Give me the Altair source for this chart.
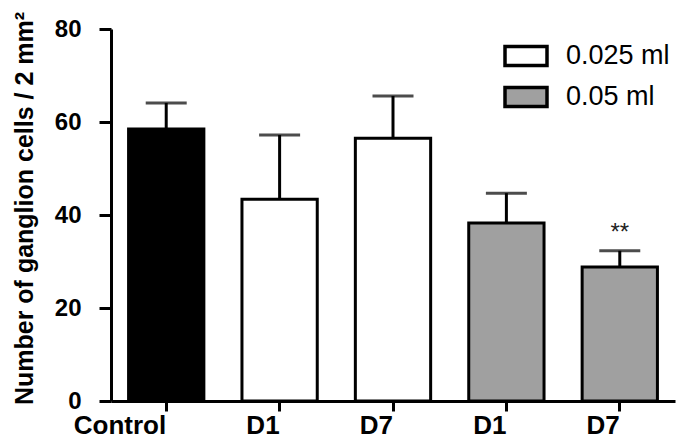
import altair as alt
import pandas as pd

categories = ["Control", "D1", "D7", "D1", "D7"]
groups = ["Control", "0.025 ml", "0.025 ml", "0.05 ml", "0.05 ml"]
means = [58.5, 43.4, 56.5, 38.3, 28.8]
uppers = [64.1, 57.2, 65.6, 44.7, 32.3]
stars = ["", "", "", "", "**"]
star_y = [None, None, None, None, 34.6]

group_domain = ["0.025 ml", "0.05 ml", "Control"]
group_colors = ["#ffffff", "#a0a0a0", "#000000"]
y_ticks = [0, 20, 40, 60, 80]

keys = [f"{i}:{c}" for i, c in enumerate(categories)]
df = pd.DataFrame({"key": keys, "group": groups, "mean": means, "upper": uppers,
                   "star": stars, "star_y": star_y})

FONT = "Liberation Sans"

x = alt.X("key:N", sort=keys, title=None,
          scale=alt.Scale(paddingInner=0.336, paddingOuter=0.155),
          axis=alt.Axis(labelExpr="split(datum.label, ':')[1]", labelAngle=0,
                        labelFont=FONT, labelFontSize=26, labelFontWeight="bold",
                        labelColor="black", labelPadding=22, labelBaseline="alphabetic",
                        domainColor="black", domainWidth=3,
                        tickColor="black", tickWidth=3, tickSize=10))
yscale = alt.Scale(domain=[0, 80], nice=False)

bars = alt.Chart(df).mark_bar(stroke="black", strokeWidth=3).encode(
    x=x,
    y=alt.Y("mean:Q", scale=yscale,
            title="Number of ganglion cells / 2 mm²",
            axis=alt.Axis(values=y_ticks, grid=False,
                          labelFont=FONT, labelFontSize=24, labelFontWeight="bold",
                          labelColor="black", labelPadding=18,
                          domainColor="black", domainWidth=3,
                          tickColor="black", tickWidth=3, tickSize=12,
                          titleFont=FONT, titleFontSize=25, titleFontWeight="bold",
                          titleColor="black", titleX=-79, titleY=179,
                          titleBaseline="alphabetic", titleAlign="center")),
    fill=alt.Fill("group:N", scale=alt.Scale(domain=group_domain, range=group_colors),
                  legend=alt.Legend(values=["0.025 ml", "0.05 ml"], title=None,
                                    orient="none", legendX=392, legendY=4,
                                    symbolType="M-1,-0.45H1V0.45H-1Z",
                                    symbolSize=1764, symbolStrokeColor="black",
                                    symbolStrokeWidth=3.5, symbolFillColor="white",
                                    labelFont=FONT, labelFontSize=27, labelColor="black",
                                    labelOffset=17, rowPadding=1, padding=0)),
)

err = alt.Chart(df).mark_rule(color="black", strokeWidth=3).encode(
    x=alt.X("key:N", sort=keys), y=alt.Y("mean:Q", scale=yscale), y2="upper:Q")

caps = alt.Chart(df).mark_tick(color="black", thickness=3, size=41, orient="horizontal").encode(
    x=alt.X("key:N", sort=keys), y=alt.Y("upper:Q", scale=yscale))

star = alt.Chart(df).transform_filter("datum.star != ''").mark_text(
    font=FONT, fontSize=24, color="#222222", baseline="alphabetic").encode(
    x=alt.X("key:N", sort=keys), y=alt.Y("star_y:Q", scale=yscale), text="star:N")

chart = alt.layer(err, caps, bars, star).properties(
    width=564, height=372,
    autosize=alt.AutoSizeParams(type="none"),
    padding={"left": 103, "top": 21, "right": 2, "bottom": 38},
    background="white",
).configure_view(stroke=None)

chart.save("out.html", embed_options={"renderer": "svg", "actions": False})
